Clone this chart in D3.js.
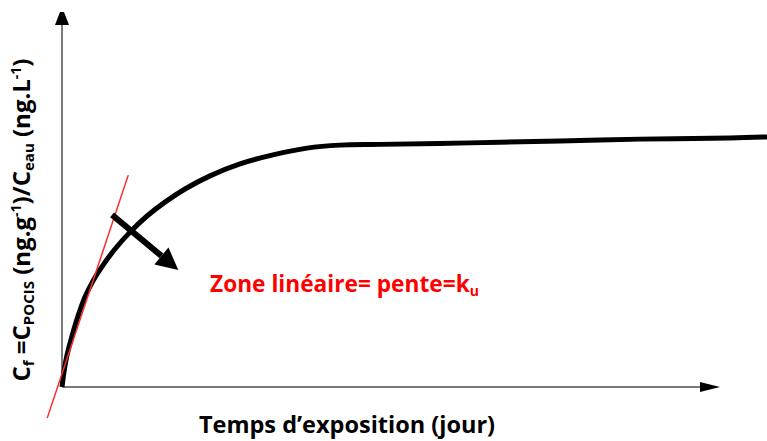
<!DOCTYPE html>
<html>
<head>
<meta charset="utf-8">
<script src="https://cdn.jsdelivr.net/npm/d3@7"></script>
<style>
  html, body { margin: 0; padding: 0; background: #fff; }
  svg { display: block; }
  text { font-family: "Open Sans", Lato, sans-serif; font-weight: bold; }
</style>
</head>
<body>
<svg id="chart" width="767" height="441"></svg>
<script>
// Uptake curve of a POCIS sampler: concentration factor vs exposure time (arbitrary units)
const timeValues   = [0, 0.28, 0.71, 1.42, 2.27, 3.26, 4.40, 5.82, 7.52, 9.65, 12.06, 14.61, 17.45, 20.99, 25.25, 29.93, 34.75, 39.43, 45.11, 57.87, 70.64, 81.99, 94.75, 100];
const uptakeValues = [0, 4.0, 8.5, 13.6, 18.9, 24.0, 28.3, 32.5, 36.8, 41.3, 45.6, 49.3, 52.8, 56.3, 59.5, 61.9, 63.7, 64.5, 64.7, 65.1, 65.6, 66.1, 66.4, 66.7];

// Tangent in the linear (kinetic) zone
const tangentTime  = [-2.1, 9.4];
const tangentValue = [-8.3, 56.5];

// Annotation arrow pointing from the tangent toward the label
const arrowTime  = [7.1, 16.5];
const arrowValue = [45.9, 31.2];

const annotationText = "Zone linéaire= pente=k";
const annotationSub = "u";
const xTitle = "Temps d\u2019exposition (jour)";

const svg = d3.select("#chart");

const x = d3.scaleLinear().domain([0, 100]).range([62, 767]);
const y = d3.scaleLinear().domain([0, 100]).range([387, 12]);

// Axes: plain lines with arrowheads
const axisEndX = 720;
const g = svg.append("g");
g.append("line")
  .attr("x1", x(0)).attr("y1", y(0))
  .attr("x2", x(0)).attr("y2", y(100) + 10)
  .attr("stroke", "#7a7a7a").attr("stroke-width", 2);
g.append("path")
  .attr("d", `M${x(0) - 2},${y(100)} L${x(0) + 2},${y(100)} L${x(0) + 7},${y(100) + 13} L${x(0) - 7},${y(100) + 13} Z`)
  .attr("fill", "#000");
g.append("line")
  .attr("x1", x(0)).attr("y1", y(0))
  .attr("x2", axisEndX - 18).attr("y2", y(0))
  .attr("stroke", "#7a7a7a").attr("stroke-width", 2);
g.append("path")
  .attr("d", `M${axisEndX},${y(0)} L${axisEndX - 20},${y(0) - 5} L${axisEndX - 20},${y(0) + 5} Z`)
  .attr("fill", "#000");

// Uptake curve
const pts = timeValues.map((t, i) => [t, uptakeValues[i]]);
const line = d3.line().x(d => x(d[0])).y(d => y(d[1])).curve(d3.curveCatmullRom.alpha(0.5));
svg.append("path")
  .datum(pts)
  .attr("d", line)
  .attr("fill", "none")
  .attr("stroke", "#000")
  .attr("stroke-width", 5)
  .attr("stroke-linejoin", "round");

// Tangent line
svg.append("line")
  .attr("x1", x(tangentTime[0])).attr("y1", y(tangentValue[0]))
  .attr("x2", x(tangentTime[1])).attr("y2", y(tangentValue[1]))
  .attr("stroke", "#ff2a2a").attr("stroke-width", 1.5);

// Annotation arrow
{
  const x1 = x(arrowTime[0]), y1 = y(arrowValue[0]);
  const x2 = x(arrowTime[1]), y2 = y(arrowValue[1]);
  const ang = Math.atan2(y2 - y1, x2 - x1);
  const headLen = 22, headHalf = 11;
  const bx = x2 - headLen * Math.cos(ang), by = y2 - headLen * Math.sin(ang);
  svg.append("line")
    .attr("x1", x1).attr("y1", y1).attr("x2", bx).attr("y2", by)
    .attr("stroke", "#000").attr("stroke-width", 6);
  const px = -Math.sin(ang), py = Math.cos(ang);
  svg.append("path")
    .attr("d", `M${x2},${y2} L${bx + headHalf * px},${by + headHalf * py} L${bx - headHalf * px},${by - headHalf * py} Z`)
    .attr("fill", "#000");
}

// Annotation label
const ann = svg.append("text")
  .attr("x", 210).attr("y", 292)
  .attr("fill", "#ff0000")
  .attr("font-size", 22.7);
ann.append("tspan").text(annotationText);
ann.append("tspan").attr("font-size", 14).attr("dy", 4).text(annotationSub);

// X axis title
svg.append("text")
  .attr("x", 347).attr("y", 433)
  .attr("text-anchor", "middle")
  .attr("font-size", 23.5)
  .attr("fill", "#000")
  .text(xTitle);

// Y axis title with subscripts and superscripts
const yt = svg.append("text")
  .attr("transform", "translate(30,220) rotate(-90)")
  .attr("text-anchor", "middle")
  .attr("font-size", 24)
  .attr("fill", "#000");
const parts = [
  ["C", 0, 24], ["f", 4, 15], [" =C", -4, 24], ["POCIS", 4, 15], [" (ng.g", -4, 24],
  ["-1", -9, 14], [")/C", 9, 24], ["eau", 4, 15], [" (ng.L", -4, 24], ["-1", -9, 14], [")", 9, 24]
];
parts.forEach(([t, dy, fs]) => {
  yt.append("tspan").attr("dy", dy).attr("font-size", fs).text(t);
});
</script>
</body>
</html>
